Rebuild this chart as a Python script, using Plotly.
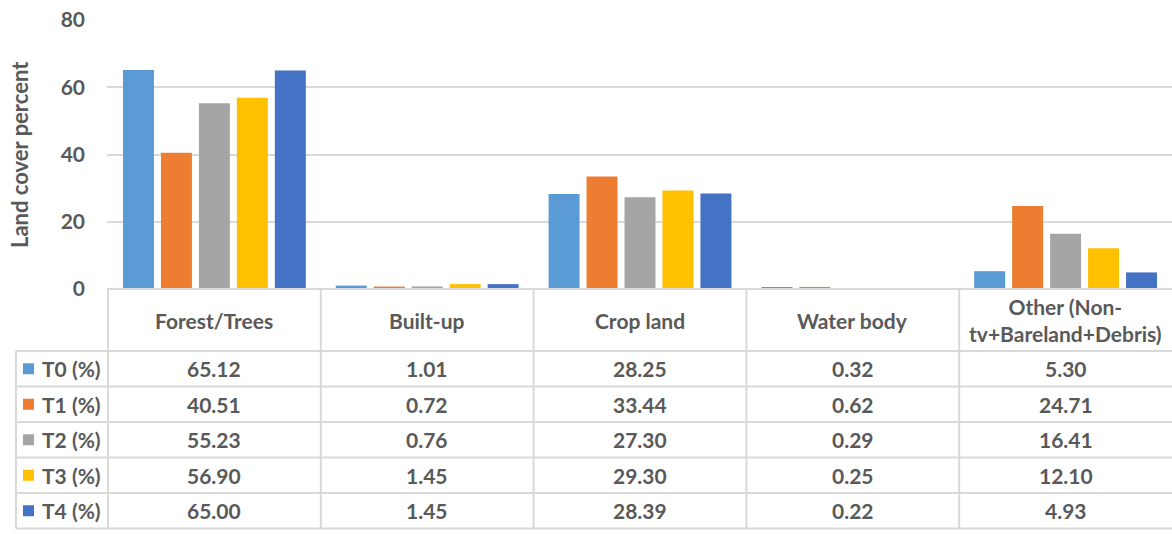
import plotly.graph_objects as go

# Land cover categories and period series
categories = ["Forest/Trees", "Built-up", "Crop land", "Water body", "Other (Non-<br>tv+Bareland+Debris)"]
series_names = ["T0 (%)", "T1 (%)", "T2 (%)", "T3 (%)", "T4 (%)"]
t0 = [65.12, 1.01, 28.25, 0.32, 5.30]
t1 = [40.51, 0.72, 33.44, 0.62, 24.71]
t2 = [55.23, 0.76, 27.30, 0.29, 16.41]
t3 = [56.90, 1.45, 29.30, 0.25, 12.10]
t4 = [65.00, 1.45, 28.39, 0.22, 4.93]
series_values = [t0, t1, t2, t3, t4]
colors = ["#5B9BD5", "#ED7D31", "#A5A5A5", "#FFC000", "#4472C4"]
y_ticks = [0, 20, 40, 60, 80]

W, H = 1172, 534
ML, MR, MT, MB = 107, 0, 20, 245
PW, PH = W - ML - MR, H - MT - MB

FONT = "Lato"
TXT = "#595959"
GRID = "#D9D9D9"

def px_x(p):
    return (p - ML) / PW

def px_y(p):
    return (H - MB - p) / PH

fig = go.Figure()
for name, vals, col in zip(series_names, series_values, colors):
    fig.add_trace(go.Bar(x=categories, y=vals, name=name, marker=dict(color=col, line=dict(width=0))))

# data table geometry (pixels)
table_top = H - MB
header_bottom = 351
row_h = 35.5
row_edges = [header_bottom + i * row_h for i in range(len(series_names) + 1)]
table_left = 16

shapes = []
line = dict(color=GRID, width=2)
# horizontal rules
shapes.append(dict(type="line", xref="paper", yref="paper", x0=0, x1=1,
                   y0=px_y(table_top), y1=px_y(table_top), line=line))
for ry in row_edges:
    shapes.append(dict(type="line", xref="paper", yref="paper", x0=px_x(table_left), x1=1,
                       y0=px_y(ry), y1=px_y(ry), line=line))
# vertical rules
shapes.append(dict(type="line", xref="paper", yref="paper", x0=px_x(table_left), x1=px_x(table_left),
                   y0=px_y(header_bottom), y1=px_y(row_edges[-1]), line=line))
for i in range(len(categories)):
    shapes.append(dict(type="line", xref="x", yref="paper", x0=i - 0.5, x1=i - 0.5,
                       y0=px_y(table_top), y1=px_y(row_edges[-1]), line=line))

annotations = []
tfont = dict(family=FONT, size=21, color=TXT, weight="bold")
# header row
for c in categories:
    annotations.append(dict(x=c, xref="x", y=px_y((table_top + header_bottom) / 2), yref="paper",
                            text=c, showarrow=False, font=tfont, xanchor="center", yanchor="middle"))
# body rows
for r, (name, vals, col) in enumerate(zip(series_names, series_values, colors)):
    cy = px_y((row_edges[r] + row_edges[r + 1]) / 2)
    shapes.append(dict(type="rect", xref="paper", yref="paper", x0=px_x(23), x1=px_x(34),
                       y0=cy - 5.5 / PH, y1=cy + 5.5 / PH, fillcolor=col, line=dict(width=0)))
    annotations.append(dict(x=px_x(40), xref="paper", y=cy, yref="paper", text=name, showarrow=False,
                            font=tfont, xanchor="left", yanchor="middle"))
    for c, v in zip(categories, vals):
        annotations.append(dict(x=c, xref="x", y=cy, yref="paper", text=f"{v:.2f}", showarrow=False,
                                font=tfont, xanchor="center", yanchor="middle"))

# y-axis title
annotations.append(dict(x=px_x(19), xref="paper", y=px_y(155), yref="paper", text="Land cover percent",
                        textangle=-90, showarrow=False, font=dict(family=FONT, size=22, color=TXT, weight="bold"),
                        xanchor="center", yanchor="middle"))

fig.update_layout(
    width=W, height=H,
    margin=dict(l=ML, r=MR, t=MT, b=MB),
    paper_bgcolor="white", plot_bgcolor="white",
    barmode="group", bargap=0.108, bargroupgap=0.184,
    showlegend=False,
    shapes=shapes, annotations=annotations,
    xaxis=dict(showticklabels=False, showgrid=False, zeroline=False, ticks="", showline=False),
    yaxis=dict(range=[0, 80], tickvals=y_ticks, showgrid=True, gridcolor=GRID, gridwidth=2,
               zeroline=False, showline=False, ticks="", ticklabelstandoff=21,
               tickfont=dict(family=FONT, size=21, color=TXT, weight="bold")),
)

fig.write_html("out.html")
